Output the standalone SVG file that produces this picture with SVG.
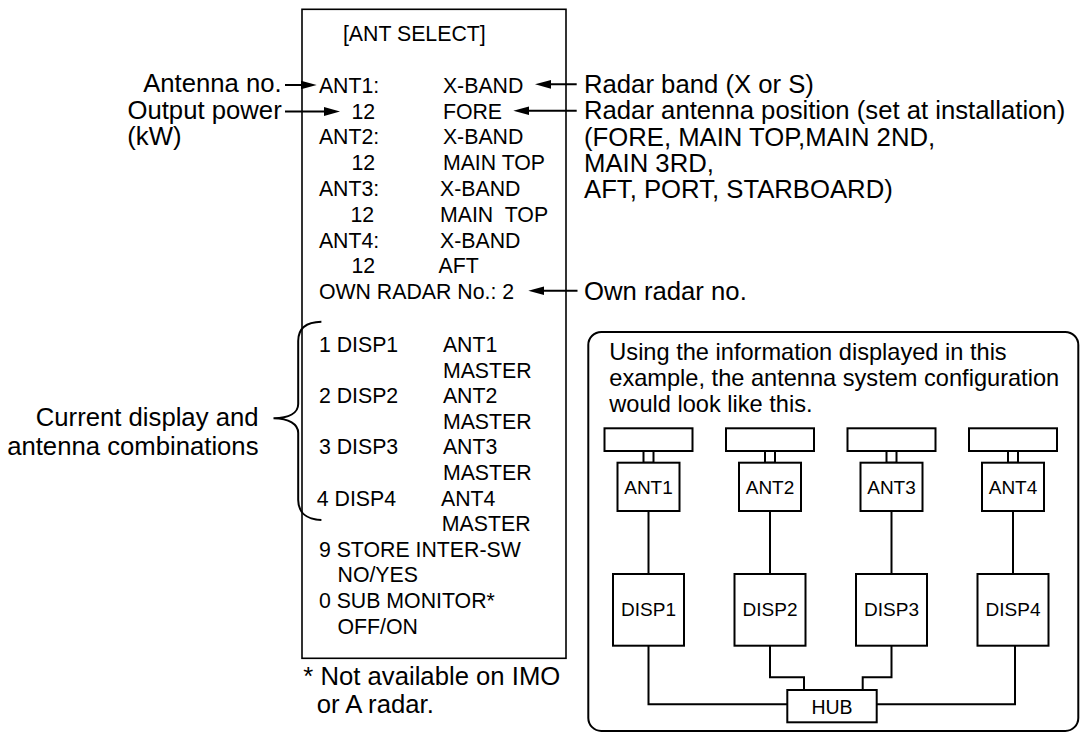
<svg xmlns="http://www.w3.org/2000/svg" width="1081" height="734" viewBox="0 0 1081 734">
<defs>
<style>
text{font-family:"Liberation Sans",Arial,Helvetica,sans-serif;fill:#000}
.m{font-size:21.3px}
.l{font-size:25.7px}
.e{text-anchor:end}
.r{font-size:23.6px}
.n{font-size:19px;text-anchor:middle}
.box{fill:#fff;stroke:#000;stroke-width:2}
.ln{fill:none;stroke:#000;stroke-width:2}
.ar{fill:none;stroke:#000;stroke-width:2;marker-end:url(#ah)}
</style>
<marker id="ah" markerUnits="userSpaceOnUse" markerWidth="17" markerHeight="10" refX="10" refY="5" orient="auto" viewBox="0 0 17 10"><path d="M0,0.6 L16,5 L0,9.4 z" fill="#000"/></marker>
</defs>
<rect width="1081" height="734" fill="#fff"/>

<g id="menu">
<rect x="302" y="9.3" width="264" height="649" fill="none" stroke="#000" stroke-width="1.6"/>
<text class="m" x="342.9" y="40.7">[ANT SELECT]</text>
<text class="m" x="318.9" y="92.7">ANT1:</text><text class="m" x="442.9" y="92.7">X-BAND</text>
<text class="m" x="351.5" y="118.5">12</text><text class="m" x="442.9" y="118.5">FORE</text>
<text class="m" x="318.9" y="144.3">ANT2:</text><text class="m" x="442.9" y="144.3">X-BAND</text>
<text class="m" x="351.5" y="170.1">12</text><text class="m" x="442.9" y="170.1">MAIN TOP</text>
<text class="m" x="318.9" y="195.9">ANT3:</text><text class="m" x="440" y="195.9">X-BAND</text>
<text class="m" x="350.5" y="221.7">12</text><text class="m" x="440" y="221.7" xml:space="preserve">MAIN  TOP</text>
<text class="m" x="318.9" y="247.5">ANT4:</text><text class="m" x="440" y="247.5">X-BAND</text>
<text class="m" x="351.5" y="273.3">12</text><text class="m" x="438.6" y="273.3">AFT</text>
<text class="m" x="318.9" y="299.1">OWN RADAR No.: 2</text>
<text class="m" x="318.9" y="352">1 DISP1</text><text class="m" x="442.9" y="352">ANT1</text>
<text class="m" x="442.9" y="377.6">MASTER</text>
<text class="m" x="318.9" y="403.2">2 DISP2</text><text class="m" x="442.9" y="403.2">ANT2</text>
<text class="m" x="442.9" y="428.8">MASTER</text>
<text class="m" x="318.9" y="454.4">3 DISP3</text><text class="m" x="442.9" y="454.4">ANT3</text>
<text class="m" x="442.9" y="480">MASTER</text>
<text class="m" x="316.8" y="505.6">4 DISP4</text><text class="m" x="441" y="505.6">ANT4</text>
<text class="m" x="441.8" y="531.2">MASTER</text>
<text class="m" x="318.9" y="556.8">9 STORE INTER-SW</text>
<text class="m" x="337.5" y="582.4">NO/YES</text>
<text class="m" x="318.9" y="608">0 SUB MONITOR*</text>
<text class="m" x="337.5" y="633.6">OFF/ON</text>
</g>

<g id="labels">
<text class="l e" x="281.7" y="92">Antenna no.</text>
<text class="l e" x="281.7" y="118.5">Output power</text>
<text class="l" x="127.3" y="145">(kW)</text>
<text class="l" x="584" y="93.3">Radar band (X or S)</text>
<text class="l" x="584" y="119.3">Radar antenna position (set at installation)</text>
<text class="l" x="584" y="145.5">(FORE, MAIN TOP,MAIN 2ND,</text>
<text class="l" x="584" y="171.5">MAIN 3RD,</text>
<text class="l" x="584" y="197.5">AFT, PORT, STARBOARD)</text>
<text class="l" x="584" y="300">Own radar no.</text>
<text class="l e" x="258.5" y="426">Current display and</text>
<text class="l e" x="258.5" y="455">antenna combinations</text>
<text class="l" x="303.3" y="685">* Not available on IMO</text>
<text class="l" x="316.7" y="713.3">or A radar.</text>
</g>

<g id="config-panel">
<rect x="588.3" y="331.9" width="490" height="399" rx="13" ry="13" fill="none" stroke="#000" stroke-width="2"/>
<text class="r" x="609.3" y="359.5">Using the information displayed in this</text>
<text class="r" x="609.3" y="385.5">example, the antenna system configuration</text>
<text class="r" x="609.3" y="411.5">would look like this.</text>
</g>

<g id="unit1">
<rect class="box" x="604.5" y="428.3" width="88" height="22.7"/>
<rect class="box" x="643.5" y="451" width="10" height="11.7"/>
<rect class="box" x="617.5" y="462.7" width="62" height="48.3"/>
<text class="n" x="648.5" y="493.5">ANT1</text>
<rect class="box" x="613" y="574" width="71" height="71.7"/>
<text class="n" x="648.5" y="615.5">DISP1</text>
</g>
<g id="unit2">
<rect class="box" x="726" y="428.3" width="88" height="22.7"/>
<rect class="box" x="765" y="451" width="10" height="11.7"/>
<rect class="box" x="739" y="462.7" width="62" height="48.3"/>
<text class="n" x="770" y="493.5">ANT2</text>
<rect class="box" x="734.5" y="574" width="71" height="71.7"/>
<text class="n" x="770" y="615.5">DISP2</text>
</g>
<g id="unit3">
<rect class="box" x="847.5" y="428.3" width="88" height="22.7"/>
<rect class="box" x="886.5" y="451" width="10" height="11.7"/>
<rect class="box" x="860.5" y="462.7" width="62" height="48.3"/>
<text class="n" x="891.5" y="493.5">ANT3</text>
<rect class="box" x="856" y="574" width="71" height="71.7"/>
<text class="n" x="891.5" y="615.5">DISP3</text>
</g>
<g id="unit4">
<rect class="box" x="969" y="428.3" width="88" height="22.7"/>
<rect class="box" x="1008" y="451" width="10" height="11.7"/>
<rect class="box" x="982" y="462.7" width="62" height="48.3"/>
<text class="n" x="1013" y="493.5">ANT4</text>
<rect class="box" x="977.5" y="574" width="71" height="71.7"/>
<text class="n" x="1013" y="615.5">DISP4</text>
</g>
<g id="hub">
<rect class="box" x="787.3" y="690" width="89.4" height="32.3"/>
<text class="n" x="832" y="713.5" style="font-size:19.5px">HUB</text>
</g>

<g id="connectors">
<line class="ar" x1="285" y1="85" x2="310.7" y2="85"/>
<line class="ar" x1="285" y1="111.5" x2="334" y2="111.5"/>
<line class="ar" x1="576.7" y1="84.3" x2="541" y2="84.3"/>
<line class="ar" x1="576.7" y1="110.8" x2="519.3" y2="110.8"/>
<line class="ar" x1="577.5" y1="290.7" x2="534.3" y2="290.7"/>
<path class="ln" d="M321.4,321.7 C306,322 298.2,329 298.2,341 L298.2,404 C298.2,413 289,418 273.5,418.3 C289,418.6 298.2,424 298.2,433 L298.2,500 C298.2,512 306,519.5 321.4,520"/>
<line class="ln" x1="648.5" y1="511" x2="648.5" y2="574"/>
<line class="ln" x1="770" y1="511" x2="770" y2="574"/>
<line class="ln" x1="891.5" y1="511" x2="891.5" y2="574"/>
<line class="ln" x1="1013" y1="511" x2="1013" y2="574"/>
<path class="ln" d="M648.5,645.7 V704.3 H787.3"/>
<path class="ln" d="M770,645.7 V677.3 H804 V690"/>
<path class="ln" d="M891.5,645.7 V677.3 H862.7 V690"/>
<path class="ln" d="M1015,645.7 V704.3 H876.7"/>
</g>
</svg>
